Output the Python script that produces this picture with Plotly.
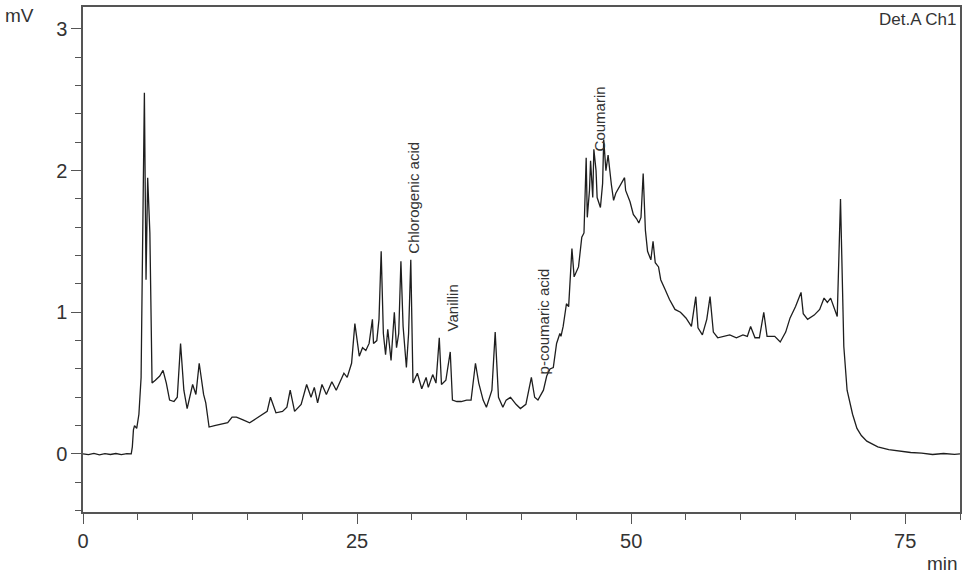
import plotly.graph_objects as go

# retention time (min) and detector signal (mV)
time_min = [
    0.0, 0.5, 1.0, 1.5, 2.0, 2.5, 3.0, 3.5, 4.0, 4.4,
    4.5, 4.6, 4.7, 4.9, 5.1, 5.3, 5.4, 5.6, 5.75, 5.9,
    6.1, 6.2, 6.3, 6.6, 7.0, 7.3, 7.6, 7.9, 8.3, 8.6,
    8.9, 9.2, 9.5, 10.0, 10.3, 10.6, 11.0, 11.2, 11.5, 12.0,
    12.6, 13.2, 13.6, 14.0, 14.6, 15.2, 15.8, 16.4, 16.8, 17.1,
    17.6, 18.2, 18.6, 18.9, 19.3, 19.9, 20.4, 20.8, 21.1, 21.4,
    21.8, 22.2, 22.7, 23.1, 23.5, 23.8, 24.1, 24.5, 24.8, 25.2,
    25.5, 25.8, 26.1, 26.4, 26.5, 26.8, 27.0, 27.2, 27.4, 27.6,
    27.8, 28.1, 28.4, 28.6, 28.8, 29.0, 29.2, 29.4, 29.5, 29.7,
    29.9, 30.1, 30.5, 30.9, 31.3, 31.5, 31.9, 32.2, 32.5, 32.7,
    33.1, 33.5, 33.7, 34.1, 34.5, 35.0, 35.4, 35.8, 36.1, 36.5,
    36.8, 37.3, 37.6, 37.9, 38.3, 38.6, 39.0, 39.5, 39.9, 40.4,
    40.7, 40.9, 41.2, 41.5, 42.0, 42.3, 42.6, 42.9, 43.2, 43.5,
    43.6, 43.8, 44.1, 44.3, 44.6, 44.8, 45.2, 45.5, 45.7, 45.9,
    46.0, 46.2, 46.3, 46.5, 46.6, 46.8, 46.9, 47.2, 47.4, 47.5,
    47.7, 47.9, 48.2, 48.4, 48.6, 49.0, 49.4, 49.5, 49.9, 50.2,
    50.5, 50.7, 50.9, 51.1, 51.3, 51.5, 51.8, 52.0, 52.2, 52.5,
    52.7, 53.1, 53.5, 54.0, 54.5, 55.0, 55.5, 55.9, 56.1, 56.5,
    56.9, 57.2, 57.5, 57.9, 58.5, 59.0, 59.6, 60.2, 60.6, 60.9,
    61.3, 61.7, 62.1, 62.4, 63.1, 63.6, 64.1, 64.5, 65.0, 65.5,
    65.7, 66.1, 66.7, 67.2, 67.6, 67.9, 68.2, 68.5, 68.8, 69.1,
    69.4, 69.7, 70.2, 70.6, 71.0, 71.5, 72.5, 73.5, 74.3, 75.5,
    76.5, 77.5, 78.5, 79.5, 80.0,
]
signal_mv = [
    0.0, -0.005, 0.004, -0.006, 0.002, -0.004, 0.003, -0.005, 0.002, 0.0,
    0.05, 0.17, 0.20, 0.18, 0.28, 0.54, 1.23, 2.55, 1.23, 1.95,
    1.56, 0.90, 0.50, 0.52, 0.55, 0.59, 0.50, 0.38, 0.37, 0.40,
    0.78, 0.45, 0.32, 0.49, 0.42, 0.64, 0.42, 0.36, 0.19, 0.20,
    0.21, 0.22, 0.26, 0.26, 0.24, 0.22, 0.25, 0.28, 0.30, 0.40,
    0.29, 0.30, 0.33, 0.45, 0.30, 0.35, 0.49, 0.40, 0.47, 0.36,
    0.49, 0.42, 0.51, 0.45, 0.52, 0.57, 0.54, 0.64, 0.92, 0.69,
    0.75, 0.73, 0.78, 0.95, 0.78, 0.80, 0.95, 1.43, 0.85, 0.70,
    0.88, 0.66, 1.00, 0.75, 0.85, 1.36, 0.90, 0.65, 0.61, 0.85,
    1.37, 0.50, 0.57, 0.46, 0.54, 0.47, 0.56, 0.50, 0.82, 0.49,
    0.52, 0.72, 0.38, 0.37, 0.37, 0.38, 0.38, 0.64, 0.50, 0.38,
    0.33, 0.45, 0.86, 0.40, 0.33, 0.38, 0.40, 0.35, 0.32, 0.35,
    0.45, 0.54, 0.40, 0.38, 0.45, 0.55, 0.60, 0.61, 0.78, 0.85,
    0.83, 0.90, 1.06, 1.04, 1.45, 1.25, 1.32, 1.53, 1.56, 2.09,
    1.67, 1.86, 2.07, 1.81, 2.15, 2.00, 1.81, 1.74, 1.91, 2.22,
    2.00, 2.11, 1.90, 1.79, 1.84, 1.90, 1.95, 1.86, 1.78, 1.69,
    1.66, 1.63, 1.67, 1.98, 1.58, 1.43, 1.37, 1.50, 1.35, 1.32,
    1.23, 1.16, 1.09, 1.02, 1.00, 0.96, 0.90, 1.11, 0.89, 0.84,
    0.95, 1.11, 0.86, 0.82, 0.83, 0.84, 0.82, 0.84, 0.83, 0.90,
    0.82, 0.82, 1.00, 0.83, 0.83, 0.79, 0.86, 0.96, 1.04, 1.14,
    0.99, 0.95, 0.98, 1.02, 1.10, 1.07, 1.10, 1.04, 0.97, 1.80,
    0.76, 0.45, 0.28, 0.18, 0.13, 0.09, 0.05, 0.03, 0.02, 0.01,
    0.005, -0.004, 0.003, -0.003, 0.0,
]

peak_names = ["Chlorogenic acid", "Vanillin", "p-coumaric acid", "Coumarin"]
peak_times = [30.2, 33.7, 42.0, 47.1]
peak_label_base = [1.40, 0.85, 0.55, 2.12]

INK = "#333333"
FONT = "Liberation Sans, Arial, sans-serif"

fig = go.Figure()
fig.add_trace(go.Scatter(
    x=time_min, y=signal_mv, mode="lines",
    line=dict(color="#1e1e1e", width=1.3), showlegend=False, hoverinfo="x+y",
))

for name, t, yb in zip(peak_names, peak_times, peak_label_base):
    fig.add_annotation(
        x=t, y=yb, text=name, showarrow=False, textangle=-90,
        xanchor="center", yanchor="bottom",
        font=dict(size=15, color=INK, family=FONT),
    )

# plot area is 879 x 505 px; paper coords below are offsets from it
fig.add_annotation(x=1, y=1, xref="paper", yref="paper", text="Det.A Ch1",
                   showarrow=False, xanchor="right", yanchor="top", xshift=-1, yshift=-1,
                   font=dict(size=17, color=INK, family=FONT))
fig.add_annotation(x=-80 / 879, y=(512 - 15) / 505, xref="paper", yref="paper", text="mV",
                   showarrow=False, xanchor="left", yanchor="middle",
                   font=dict(size=19, color=INK, family=FONT))
fig.add_annotation(x=1, y=-(563 - 512) / 505, xref="paper", yref="paper", text="min",
                   showarrow=False, xanchor="right", yanchor="middle",
                   font=dict(size=19, color=INK, family=FONT))

axis_style = dict(
    showline=True, mirror=True, linecolor="#555555", linewidth=1.5,
    showgrid=False, zeroline=False, ticks="outside", ticklen=10, tickwidth=1.3,
    tickcolor="#555555", tickfont=dict(size=20, color=INK, family=FONT),
)
fig.update_xaxes(range=[0, 80], dtick=25, tick0=0,
                 minor=dict(ticks="outside", ticklen=6, dtick=5, tickcolor="#555555"),
                 **axis_style)
fig.update_yaxes(range=[-0.41, 3.155], dtick=1, tick0=0,
                 minor=dict(ticks="outside", ticklen=6, dtick=0.2, tickcolor="#555555"),
                 **axis_style)

fig.update_layout(
    width=966, height=574,
    paper_bgcolor="white", plot_bgcolor="white",
    margin=dict(l=83, r=4, t=7, b=62),
    font=dict(family=FONT, color=INK),
)

fig.write_html("out.html", config={"displayModeBar": False},
               post_script="document.body.style.margin='0';")
